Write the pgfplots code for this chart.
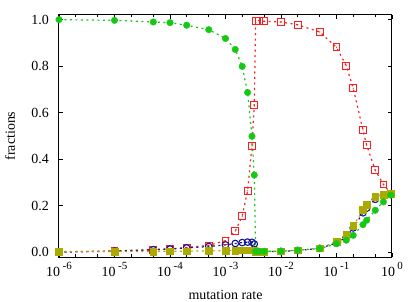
\documentclass[border=0pt]{standalone}
\usepackage{fontspec}
\setmainfont{Liberation Serif}
\usepackage{pgfplots}
\pgfplotsset{compat=1.18}
\definecolor{cgreen}{RGB}{20,200,20}
\definecolor{cred}{RGB}{250,30,30}
\definecolor{cblue}{RGB}{20,20,150}
\definecolor{colive}{RGB}{170,170,0}
\newcommand\tp[1]{10\hspace{2.5bp}\raisebox{7.5bp}{\fontsize{11}{11}\selectfont #1}}
\pgfdeclareplotmark{sqdot}{%
  \pgfpathrectangle{\pgfqpoint{-\pgfplotmarksize}{-\pgfplotmarksize}}{\pgfqpoint{2\pgfplotmarksize}{2\pgfplotmarksize}}%
  \pgfusepathqstroke
  \pgfpathcircle{\pgfpointorigin}{0.6bp}%
  \pgfusepathqfill}
\begin{document}
\begin{tikzpicture}
\useasboundingbox (-59bp,-45bp) rectangle (350bp,257bp);
\begin{axis}[
  at={(0,0)}, anchor=south west,
  scale only axis, width=333bp, height=242bp,
  xmode=log, xmin=1e-6, xmax=1, ymin=-0.02, ymax=1.02,
  xtick={1e-6,1e-5,1e-4,1e-3,1e-2,1e-1,1},
  xticklabels={\tp{-6},\tp{-5},\tp{-4},\tp{-3},\tp{-2},\tp{-1},\tp{0}},
  minor xtick={2e-6,5e-6,2e-5,5e-5,2e-4,5e-4,2e-3,5e-3,2e-2,5e-2,2e-1,5e-1},
  ytick={0,0.2,0.4,0.6,0.8,1.0},
  yticklabel style={/pgf/number format/fixed, /pgf/number format/fixed zerofill, /pgf/number format/precision=1, /pgf/number format/assume math mode=true, inner sep=0pt, anchor=east, xshift=-10bp},
  tick label style={font=\fontsize{14}{16}\selectfont},
  xticklabel style={inner sep=0pt, anchor=base, yshift=-19.7bp},
  tick align=inside, major tick length=4bp, minor tick length=2.5bp,
  tick style={black, line width=0.8bp},
  axis line style={line width=1bp},
  xlabel={mutation rate}, ylabel={fractions},
  every axis x label/.style={at={(axis description cs:0.5,0)}, anchor=base, yshift=-42bp, font=\fontsize{14}{16}\selectfont},
  every axis y label/.style={at={(axis description cs:0,0.5)}, xshift=-44bp, rotate=90, anchor=base, font=\fontsize{14}{16}\selectfont},
  every axis plot/.append style={line width=1.2bp, dash pattern=on 2bp off 3.5bp},
]
% red
\addplot[color=cred, mark=sqdot, mark size=3.4bp, mark options={solid, line width=0.9bp, fill=cred}] coordinates {
(1e-6,0.002) (1e-5,0.006) (5e-5,0.012) (1e-4,0.015) (2e-4,0.021) (5e-4,0.030)
(1e-3,0.050) (1.5e-3,0.092) (2e-3,0.155) (2.5e-3,0.264) (3e-3,0.457) (3.3e-3,0.634)
(3.5e-3,0.996) (4e-3,0.996) (5e-3,0.993) (1e-2,0.990) (2e-2,0.978) (5e-2,0.947)
(0.1,0.881) (0.15,0.802) (0.2,0.705) (0.3,0.526) (0.35,0.460) (0.5,0.353) (0.7,0.292) (0.95,0.253)
};
% blue
\addplot[color=cblue, mark=o, mark size=3.3bp, mark options={solid, line width=1.1bp}] coordinates {
(1e-6,0.001) (1e-5,0.005) (5e-5,0.011) (1e-4,0.014) (2e-4,0.019) (5e-4,0.025)
(1e-3,0.032) (1.5e-3,0.038) (2e-3,0.042) (2.5e-3,0.044) (3e-3,0.043) (3.3e-3,0.036)
(3.5e-3,0.003) (4e-3,0.003) (5e-3,0.003) (1e-2,0.004) (2e-2,0.008) (5e-2,0.017)
(0.1,0.040) (0.15,0.065) (0.2,0.105) (0.3,0.170) (0.35,0.190) (0.5,0.228) (0.7,0.245) (0.95,0.251)
};
% olive
\addplot[color=colive, mark=square*, mark size=3.4bp, mark options={solid, line width=0.5bp}] coordinates {
(1e-6,0.003) (1e-5,0.004) (5e-5,0.004) (1e-4,0.005) (2e-4,0.005) (5e-4,0.006)
(1e-3,0.007) (1.5e-3,0.008) (2e-3,0.009) (2.5e-3,0.009) (3e-3,0.009) (3.3e-3,0.009)
(3.5e-3,0.004) (4e-3,0.004) (5e-3,0.004) (1e-2,0.005) (2e-2,0.009) (5e-2,0.018)
(0.1,0.046) (0.15,0.075) (0.2,0.113) (0.3,0.182) (0.35,0.203) (0.5,0.238) (0.7,0.247) (0.95,0.252)
};
% green
\addplot[color=cgreen, mark=*, mark size=3.3bp, mark options={solid, line width=0.3bp}] coordinates {
(1e-6,1.0) (1e-5,0.997) (5e-5,0.990) (1e-4,0.987) (2e-4,0.976) (5e-4,0.957)
(1e-3,0.919) (1.5e-3,0.872) (2e-3,0.799) (2.5e-3,0.687) (3e-3,0.499) (3.3e-3,0.332)
(3.5e-3,0.004) (4e-3,0.004) (5e-3,0.004) (1e-2,0.005) (2e-2,0.009) (5e-2,0.016)
(0.1,0.037) (0.15,0.052) (0.2,0.073) (0.3,0.119) (0.35,0.138) (0.5,0.181) (0.7,0.217) (0.95,0.246)
};
\end{axis}
\end{tikzpicture}
\end{document}
